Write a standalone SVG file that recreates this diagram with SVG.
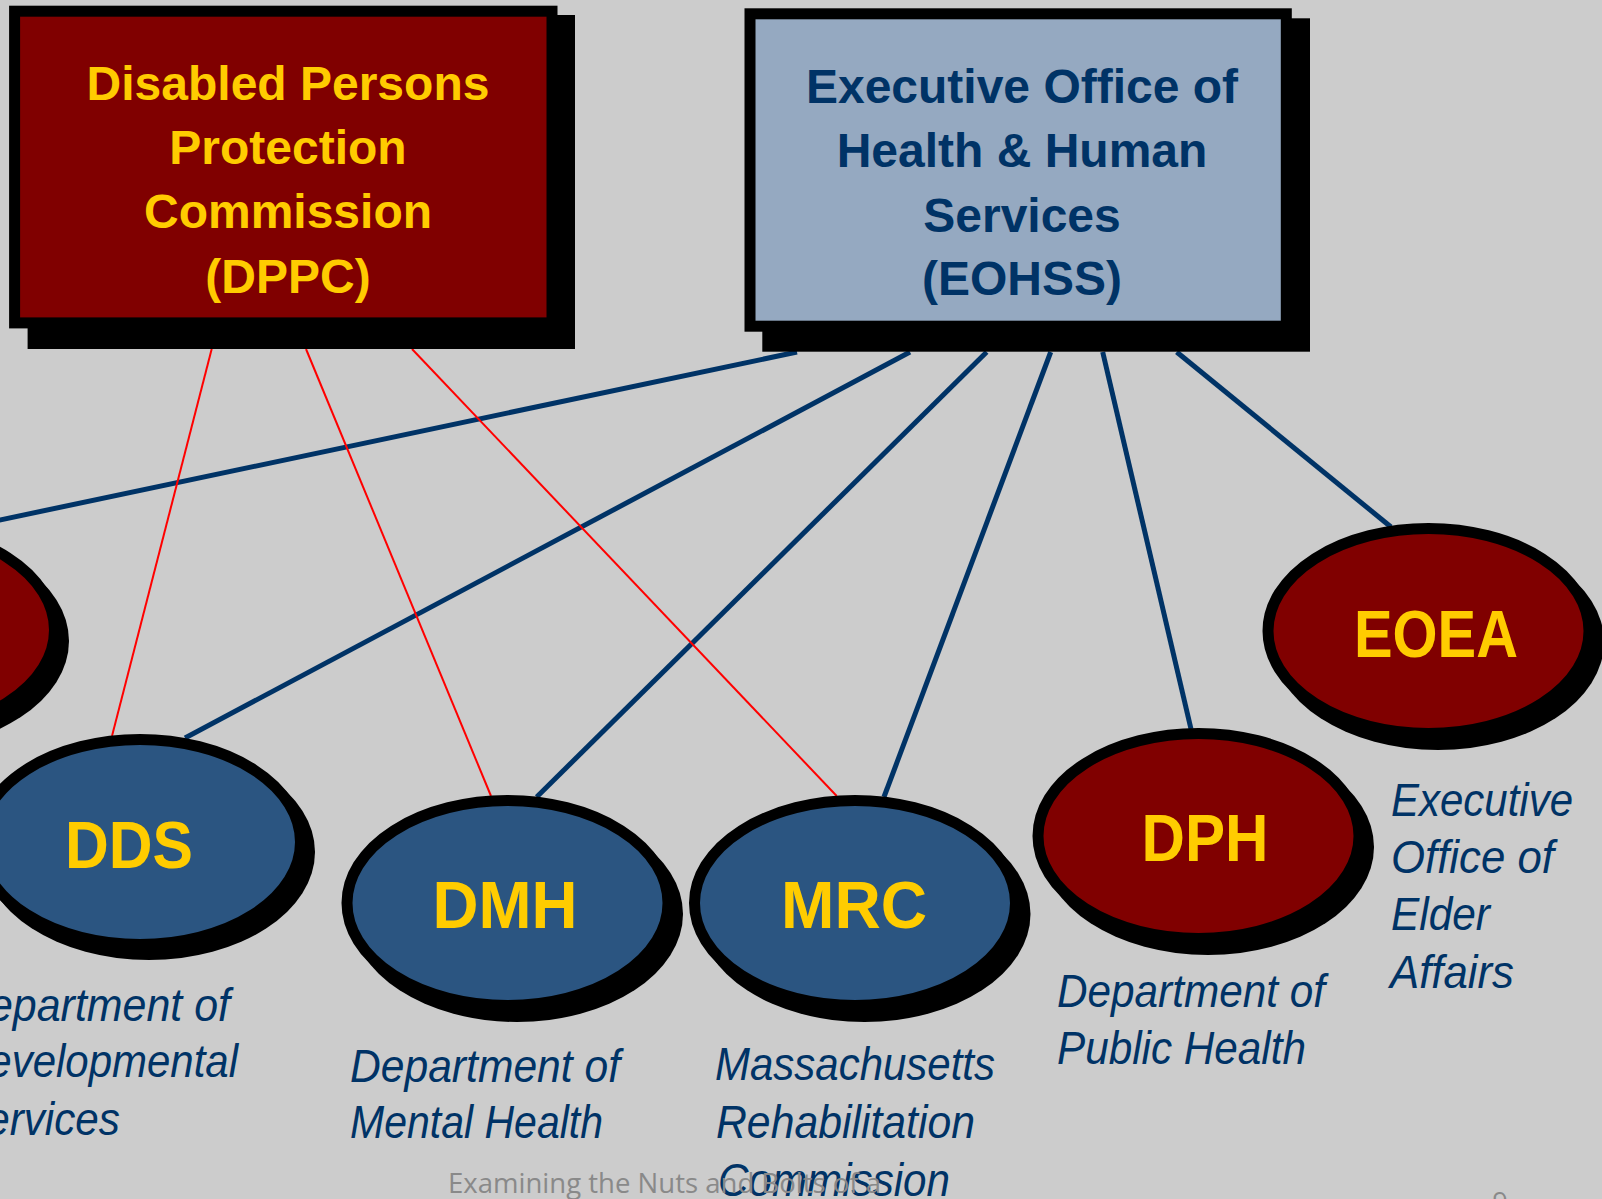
<svg xmlns="http://www.w3.org/2000/svg" width="1602" height="1199" viewBox="0 0 1602 1199">
<style>
.bg{fill:#CCCCCC}
.shadow{fill:#000000}
.red{fill:#800000;stroke:#000000;stroke-width:11}
.blue{fill:#2B5581;stroke:#000000;stroke-width:11}
.boxeo{fill:#95A9C1;stroke:#000000;stroke-width:11}
.title{font-family:"Liberation Sans",Arial,sans-serif;font-weight:bold;font-size:48px;text-anchor:middle}
.ylw{fill:#FFCC00}
.nav{fill:#003366}
.abbr{font-family:"Liberation Sans",Arial,sans-serif;font-weight:bold;font-size:66px;fill:#FFCC00;text-anchor:middle}
.lbl{font-family:"Liberation Sans",Arial,sans-serif;font-style:italic;font-size:47px;fill:#003366}
.bl{stroke:#003366;stroke-width:5;fill:none}
.rl{stroke:#FF0000;stroke-width:2;fill:none}
.foot{font-family:"Open Sans","Noto Sans",sans-serif;font-size:27px;fill:#898989}
</style>
<rect class="bg" x="0" y="0" width="1602" height="1199"/>

<g id="connectors">
<line class="bl" x1="797" y1="352" x2="-50" y2="530.5"/>
<line class="bl" x1="910" y1="352" x2="185" y2="738"/>
<line class="bl" x1="986.7" y1="352" x2="536.7" y2="797"/>
<line class="bl" x1="1050.7" y1="352" x2="884" y2="797"/>
<line class="bl" x1="1102.7" y1="352" x2="1191" y2="729"/>
<line class="bl" x1="1176.7" y1="352" x2="1391" y2="527"/>
<line class="rl" x1="211.7" y1="349" x2="112" y2="736"/>
<line class="rl" x1="306" y1="349" x2="491" y2="796"/>
<line class="rl" x1="412" y1="349" x2="836.7" y2="796"/>
</g>

<g id="dppc">
<rect class="shadow" x="27.6" y="15" width="547.4" height="334"/>
<rect class="red" x="14.6" y="11.2" width="537.4" height="311.7"/>
<text class="title ylw" x="288" y="100">Disabled Persons</text>
<text class="title ylw" x="288" y="164">Protection</text>
<text class="title ylw" x="288" y="228">Commission</text>
<text class="title ylw" x="288" y="292.5">(DPPC)</text>
</g>

<g id="eohss">
<rect class="shadow" x="762.3" y="18.3" width="547.7" height="333.4"/>
<rect class="boxeo" x="750" y="13.8" width="536.3" height="312.4"/>
<text class="title nav" x="1022" y="103">Executive Office of</text>
<text class="title nav" x="1022" y="167">Health &amp; Human</text>
<text class="title nav" x="1022" y="231.5">Services</text>
<text class="title nav" x="1022" y="295">(EOHSS)</text>
</g>

<g id="left-node">
<ellipse class="shadow" cx="-97" cy="641" rx="166" ry="108"/>
<ellipse class="red" cx="-106" cy="630" rx="160.5" ry="102.5"/>
</g>

<g id="dds">
<ellipse class="shadow" cx="149" cy="852" rx="166" ry="108"/>
<ellipse class="blue" cx="140" cy="842" rx="160.5" ry="102.5"/>
<text class="abbr" x="129" y="868" textLength="128" lengthAdjust="spacingAndGlyphs">DDS</text>
<text class="lbl" x="-42" y="1021" textLength="272" lengthAdjust="spacingAndGlyphs">Department of</text>
<text class="lbl" x="-42" y="1077" textLength="280" lengthAdjust="spacingAndGlyphs">Developmental</text>
<text class="lbl" x="-42" y="1135" textLength="162" lengthAdjust="spacingAndGlyphs">Services</text>
</g>

<g id="dmh">
<ellipse class="shadow" cx="517" cy="914" rx="166" ry="108"/>
<ellipse class="blue" cx="507.5" cy="903" rx="160.5" ry="102.5"/>
<text class="abbr" x="505" y="928" textLength="145" lengthAdjust="spacingAndGlyphs">DMH</text>
<text class="lbl" x="350" y="1082" textLength="270" lengthAdjust="spacingAndGlyphs">Department of</text>
<text class="lbl" x="350" y="1138" textLength="253" lengthAdjust="spacingAndGlyphs">Mental Health</text>
</g>

<g id="mrc">
<ellipse class="shadow" cx="864.5" cy="914" rx="166" ry="108"/>
<ellipse class="blue" cx="855" cy="903" rx="160.5" ry="102.5"/>
<text class="abbr" x="854" y="928" textLength="146" lengthAdjust="spacingAndGlyphs">MRC</text>
<text class="lbl" x="715" y="1080" textLength="280" lengthAdjust="spacingAndGlyphs">Massachusetts</text>
<text class="lbl" x="716" y="1138" textLength="259" lengthAdjust="spacingAndGlyphs">Rehabilitation</text>
<text class="lbl" x="718" y="1196" textLength="232" lengthAdjust="spacingAndGlyphs">Commission</text>
</g>

<g id="dph">
<ellipse class="shadow" cx="1208" cy="847" rx="166" ry="108"/>
<ellipse class="red" cx="1198.5" cy="836" rx="160.5" ry="102.5"/>
<text class="abbr" x="1205" y="861" textLength="127" lengthAdjust="spacingAndGlyphs">DPH</text>
<text class="lbl" x="1057" y="1007" textLength="268" lengthAdjust="spacingAndGlyphs">Department of</text>
<text class="lbl" x="1057" y="1064" textLength="249" lengthAdjust="spacingAndGlyphs">Public Health</text>
</g>

<g id="eoea">
<ellipse class="shadow" cx="1438" cy="642" rx="166" ry="108"/>
<ellipse class="red" cx="1428.5" cy="631" rx="160.5" ry="102.5"/>
<text class="abbr" x="1436" y="657" textLength="164" lengthAdjust="spacingAndGlyphs">EOEA</text>
<text class="lbl" x="1391" y="816" textLength="182" lengthAdjust="spacingAndGlyphs">Executive</text>
<text class="lbl" x="1391" y="873" textLength="163" lengthAdjust="spacingAndGlyphs">Office of</text>
<text class="lbl" x="1391" y="930" textLength="99" lengthAdjust="spacingAndGlyphs">Elder</text>
<text class="lbl" x="1390" y="988" textLength="124" lengthAdjust="spacingAndGlyphs">Affairs</text>
</g>

<g id="footer">
<text class="foot" x="448" y="1193" textLength="433" lengthAdjust="spacingAndGlyphs">Examining the Nuts and Bolts of a</text>
<text class="foot" x="1500" y="1212" text-anchor="middle">9</text>
</g>
</svg>
